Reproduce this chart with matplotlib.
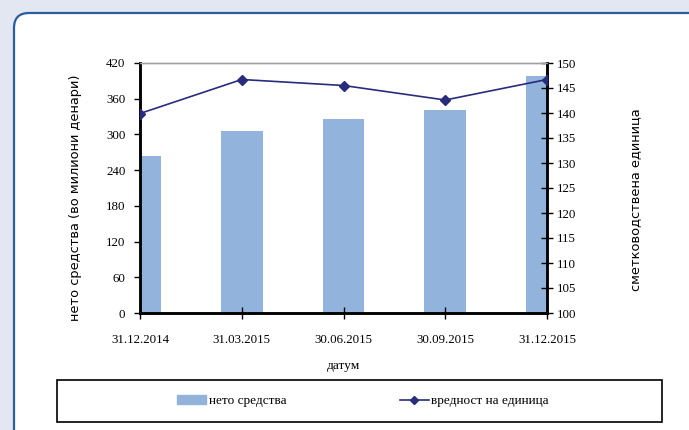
import matplotlib.pyplot as plt
from matplotlib.patches import FancyBboxPatch, Rectangle
import numpy as np

# values
dates = ['31.12.2014', '31.03.2015', '30.06.2015', '30.09.2015', '31.12.2015']
net_assets = [264, 306, 326, 341, 398]          # million denars
unit_value = [139.9, 146.7, 145.5, 142.6, 146.7]

serif = 'Liberation Serif'
sans = 'DejaVu Sans'
bar_color = '#92b4dc'
line_color = '#272c7c'

fig = plt.figure(figsize=(6.89, 4.30), dpi=100)
fig.patch.set_facecolor('#e3e7f2')

# white rounded panel
panel = FancyBboxPatch((0.14, -0.5), 7.2, 4.67,
                       boxstyle='round,pad=0,rounding_size=0.15',
                       transform=fig.dpi_scale_trans, facecolor='white',
                       edgecolor='#2b5c9c', linewidth=1.6, zorder=-2)
fig.patches.append(panel)

ax = fig.add_axes([140 / 689, 117 / 430, 407 / 689, 250 / 430])
x = np.arange(len(dates))
ax.bar(x, net_assets, width=0.41, color=bar_color, zorder=1)
ax.set_xlim(0, len(dates) - 1)
ax.set_ylim(0, 420)
ax.set_yticks(np.arange(0, 421, 60))
ax.set_xticks(x)
ax.set_xticklabels(dates)
ax.patch.set_alpha(0)

ax2 = ax.twinx()
ax2.plot(x, unit_value, color=line_color, marker='D', markersize=5.5,
         linewidth=1.2, zorder=3)
ax2.set_ylim(100, 150)
ax2.set_yticks(np.arange(100, 151, 5))

for a in (ax, ax2):
    for s in ('left', 'bottom', 'right'):
        a.spines[s].set_color('black')
        a.spines[s].set_linewidth(1.8)
    a.spines['top'].set_color('#a0a0a0')
    a.spines['top'].set_linewidth(1.0)
    for lab in a.get_xticklabels() + a.get_yticklabels():
        lab.set_fontfamily(serif)
        lab.set_fontsize(9.3)

ax.tick_params(axis='y', direction='out', length=4, width=1, pad=6.5)
ax.tick_params(axis='x', direction='inout', length=8, width=1, pad=11)
ax2.tick_params(axis='y', direction='inout', length=8, width=1, pad=3)

ax.set_xlabel('датум', fontfamily=serif, fontsize=9.6, labelpad=10)
ax.set_ylabel('нето средства (во милиони денари)', fontfamily=sans,
              fontsize=9.4, labelpad=17)
ax.yaxis.label.set_y(0.46)
ax2.set_ylabel('сметководствена единица', fontfamily=sans, fontsize=9.4,
               labelpad=38)
ax2.yaxis.label.set_y(0.452)

# legend box
fig.patches.append(Rectangle((57 / 689, 8 / 430), 605 / 689, 42 / 430,
                             transform=fig.transFigure, facecolor='white',
                             edgecolor='black', linewidth=1.2, zorder=-1))
h1 = Rectangle((0, 0), 1, 1, color=bar_color)
h2, = ax2.plot([], [], color=line_color, marker='D', markersize=4.5,
               linewidth=1.2)
leg = fig.legend([h1, h2], ['нето средства', 'вредност на единица'],
                 loc='center', bbox_to_anchor=(363 / 689, 29 / 430), ncol=2,
                 frameon=False, handlelength=2.2, handletextpad=0.2,
                 columnspacing=8.6, prop={'family': serif, 'size': 9.5})

fig.savefig('out.png', dpi=100)
